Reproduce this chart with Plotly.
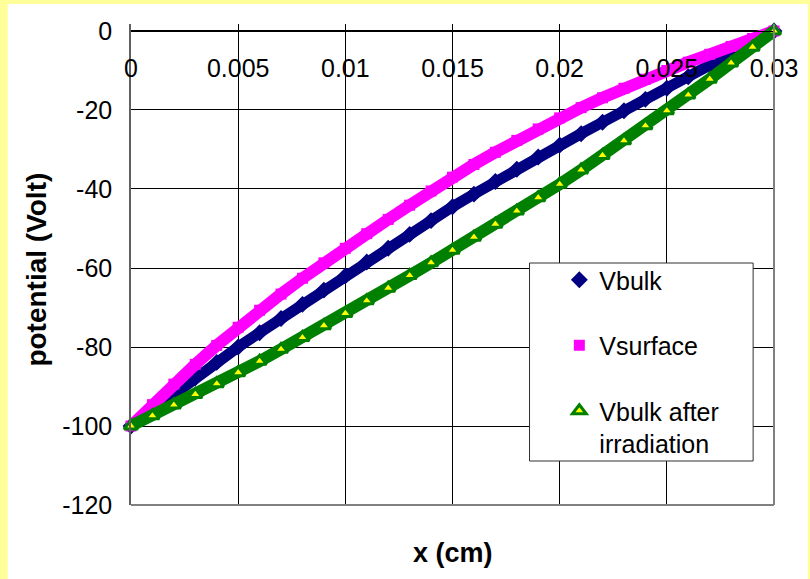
import plotly.graph_objects as go

# Position across the detector (cm)
x_cm = [0.000, 0.001, 0.002, 0.003, 0.004, 0.005, 0.006, 0.007, 0.008, 0.009,
        0.010, 0.011, 0.012, 0.013, 0.014, 0.015, 0.016, 0.017, 0.018, 0.019,
        0.020, 0.021, 0.022, 0.023, 0.024, 0.025, 0.026, 0.027, 0.028, 0.029,
        0.030]

# Potential profiles (Volt)
v_bulk = [-100.0, -95.9, -91.8, -87.8, -83.9, -80.0, -76.4, -72.8, -69.2, -65.6,
          -62.0, -58.5, -55.0, -51.5, -48.0, -44.5, -41.3, -38.1, -35.0, -31.9,
          -28.9, -26.0, -23.1, -20.2, -17.3, -14.5, -11.6, -8.7, -5.8, -2.9,
          0.0]
v_surface = [-100.0, -94.6, -89.4, -84.4, -79.6, -75.0, -70.7, -66.6, -62.6, -58.7,
             -55.0, -51.3, -47.7, -44.1, -40.5, -37.0, -33.8, -30.7, -27.7, -24.8,
             -22.0, -19.4, -16.9, -14.5, -12.2, -10.0, -7.9, -5.9, -3.9, -1.9,
             0.0]
v_bulk_irr = [-100.0, -97.4, -94.7, -92.0, -89.3, -86.5, -83.6, -80.6, -77.6, -74.6,
              -71.5, -68.3, -65.1, -61.9, -58.7, -55.5, -52.2, -48.9, -45.6, -42.2,
              -38.8, -35.2, -31.5, -27.8, -24.0, -20.2, -16.2, -12.2, -8.1, -4.1,
              0.0]

x_ticks = [0, 0.005, 0.01, 0.015, 0.02, 0.025, 0.03]
x_tick_text = ["0", "0.005", "0.01", "0.015", "0.02", "0.025", "0.03"]
y_ticks = [0, -20, -40, -60, -80, -100, -120]
y_tick_text = ["0", "-20", "-40", "-60", "-80", "-100", "-120"]

FONT = "Arial, 'Liberation Sans', sans-serif"

series = [
    ("Vbulk", v_bulk, "#000080", dict(symbol="diamond", size=13, color="#000080"), 11),
    ("Vsurface", v_surface, "#FF00FF", dict(symbol="square", size=11, color="#FF00FF"), 12),
    ("Vbulk after<br>irradiation", v_bulk_irr, "#008000",
     dict(symbol="triangle-up", size=12, color="#FFFF00",
          line=dict(color="#008000", width=3)), 12),
]

fig = go.Figure()
for i, (name, ys, col, mk, lw) in enumerate(series):
    # dense band of overlapping markers
    fig.add_trace(go.Scatter(x=x_cm, y=ys, mode="lines", line=dict(color=col, width=lw),
                             showlegend=False, hoverinfo="skip", legendgroup=f"g{i}"))
    fig.add_trace(go.Scatter(x=x_cm, y=ys, mode="markers", marker=mk, name=name,
                             cliponaxis=False, legendgroup=f"g{i}"))

# plot area in pixels: left 131, right 778, top 24, bottom 505
L, R, T, B = 131, 778, 24, 505
W, H = R - L, B - T


def px(xp):
    return (xp - L) / W


def py(yp):
    return (B - yp) / H


y_range = [-120, 1.77]

fig.update_layout(
    width=810, height=579,
    margin=dict(l=L, r=810 - R, t=T, b=579 - B),
    paper_bgcolor="#FFFF99",
    plot_bgcolor="white",
    font=dict(family=FONT, size=25, color="black"),
    showlegend=True,
    legend=dict(x=px(562), y=py(257), xanchor="left", yanchor="top",
                bgcolor="rgba(0,0,0,0)", borderwidth=0, valign="top",
                traceorder="grouped", tracegroupgap=30,
                font=dict(family=FONT, size=25, color="black")),
    xaxis=dict(range=[0, 0.03], tickmode="array", tickvals=x_ticks, ticktext=x_tick_text,
               showgrid=True, gridcolor="black", gridwidth=1, zeroline=False,
               showline=True, linecolor="black", linewidth=1,
               anchor="free", position=120 / (120 + y_range[1]), side="bottom",
               ticks="", ticklabelstandoff=15,
               tickfont=dict(family=FONT, size=25, color="black")),
    yaxis=dict(range=y_range, tickmode="array", tickvals=y_ticks, ticktext=y_tick_text,
               showgrid=True, gridcolor="black", gridwidth=1, zeroline=False,
               showline=True, linecolor="#606060", linewidth=1.5,
               ticks="", ticklabelstandoff=12,
               tickfont=dict(family=FONT, size=25, color="black")),
    shapes=[
        # white chart area over the yellow frame
        dict(type="rect", xref="paper", yref="paper", layer="below",
             x0=px(7), x1=px(812), y0=py(4), y1=py(581),
             fillcolor="white", line=dict(width=0)),
        # plot area border (right and bottom)
        dict(type="line", xref="paper", yref="paper", x0=1, x1=1, y0=0, y1=1,
             line=dict(color="#808080", width=2)),
        dict(type="line", xref="paper", yref="paper", x0=0, x1=1, y0=0, y1=0,
             line=dict(color="#808080", width=2)),
        # legend box
        dict(type="rect", xref="paper", yref="paper",
             x0=px(532), x1=px(757), y0=py(461), y1=py(263),
             fillcolor="white", line=dict(color="#303030", width=1)),
    ],
    annotations=[
        dict(text="<b>potential (Volt)</b>", xref="paper", yref="paper",
             x=px(35), y=py(270), textangle=-90, showarrow=False,
             xanchor="center", yanchor="middle",
             font=dict(family=FONT, size=28, color="black")),
        dict(text="<b>x (cm)</b>", xref="paper", yref="paper",
             x=px(455), y=py(553), showarrow=False,
             xanchor="center", yanchor="middle",
             font=dict(family=FONT, size=27, color="black")),
    ],
)

fig.write_html("out.html")
